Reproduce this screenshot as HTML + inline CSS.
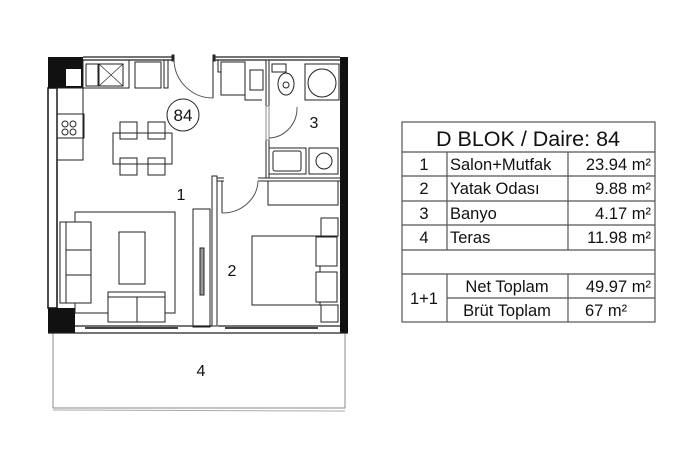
<!DOCTYPE html>
<html><head><meta charset="utf-8"><style>
html,body{margin:0;padding:0;background:#fff;width:700px;height:466px;overflow:hidden}
svg{display:block}
text{font-family:"Liberation Sans",Arial,sans-serif;fill:#111}
</style></head><body>
<svg width="700" height="466" viewBox="0 0 700 466" xmlns="http://www.w3.org/2000/svg">
<g fill="none" stroke="#222" stroke-width="1">
<path d="M53 333 V408 H345 V333" stroke="#888"/>
<line x1="53" y1="410" x2="345" y2="411" stroke="#aaa"/>
<rect x="48" y="57" width="35" height="31" fill="#111" stroke="none"/>
<rect x="66" y="69" width="15" height="17" fill="#fff" stroke="none"/>
<rect x="48" y="88" width="9" height="220" fill="#fff" stroke="#111" stroke-width="1.5"/>
<rect x="48" y="308" width="27" height="25" fill="#111" stroke="none"/>
<rect x="340" y="57" width="8" height="276" fill="#111" stroke="none"/>
<path d="M83 57 H174 M83 60 H174 M215 57 H340 M215 60 H340" stroke-width="1.2"/>
<rect x="172" y="55" width="2" height="6" fill="#222"/>
<rect x="213" y="55" width="2" height="6" fill="#222"/>
<path d="M48 333 H348 M75 326 H212 M218 326 H340" stroke-width="1.2"/>
<path d="M85 328 H178 M225 328 H318" stroke="#444" stroke-width="2"/>
<rect x="83" y="60" width="46" height="28"/>
<rect x="86" y="64" width="12" height="22"/>
<rect x="99" y="64" width="24" height="22"/>
<path d="M99 64 L123 86 M123 64 L99 86" stroke-width="0.6"/>
<rect x="135" y="62" width="26" height="26"/>
<rect x="164" y="60" width="4" height="28"/>
<line x1="213" y1="60" x2="213" y2="98"/>
<path d="M174 60 A39 39 0 0 0 213 98" stroke="#555"/>
<circle cx="183" cy="115" r="16"/>
<rect x="57" y="88" width="26" height="72"/>
<rect x="57" y="114" width="27" height="24"/>
<circle cx="65" cy="124" r="3"/><circle cx="73" cy="124" r="3"/>
<circle cx="65" cy="132" r="3"/><circle cx="73" cy="132" r="3"/>
<rect x="113" y="133" width="59" height="31"/>
<rect x="120" y="122" width="17" height="17"/><rect x="148" y="122" width="17" height="17"/>
<rect x="120" y="158" width="17" height="17"/><rect x="148" y="158" width="17" height="17"/>
<rect x="75" y="212" width="100" height="101"/>
<rect x="60" y="222" width="31" height="81" fill="#fff"/>
<path d="M66 222 V303 M66 250 H91 M66 275 H91"/>
<rect x="119" y="232" width="26" height="52"/>
<rect x="108" y="292" width="57" height="30" fill="#fff"/>
<path d="M108 297 H165 M137 297 V322"/>
<rect x="193" y="209" width="17" height="118"/>
<rect x="200" y="248" width="4" height="47" fill="#999"/>
<rect x="212" y="176" width="5" height="150" fill="#fff"/>
<path d="M217 178 H224 M258 178 H340 M217 181 H224 M258 181 H340"/>
<rect x="266" y="60" width="3" height="118" fill="#fff"/>
<path d="M218 60 V72 H221 V95 H245 V100 H262"/>
<rect x="221" y="62" width="24" height="33"/>
<rect x="250" y="70" width="13" height="20"/>
<line x1="222" y1="181" x2="222" y2="213"/>
<path d="M222 213 A36 33 0 0 0 258 181" stroke="#555"/>
<rect x="268" y="181" width="70" height="24"/>
<rect x="321" y="218" width="17" height="18"/>
<rect x="321" y="305" width="17" height="17"/>
<rect x="252" y="236" width="68" height="69" fill="#fff"/>
<rect x="316" y="237" width="21" height="29" fill="#fff"/>
<rect x="316" y="272" width="21" height="30" fill="#fff"/>
<rect x="266" y="106" width="3" height="34" fill="#fff" stroke="#888"/>
<path d="M297 107 A29 30 0 0 1 269 138" stroke="#555"/>
<rect x="272" y="64" width="14" height="8"/>
<ellipse cx="286" cy="84" rx="8" ry="11"/>
<circle cx="286" cy="85" r="3"/>
<rect x="305" y="64" width="34" height="36"/>
<circle cx="322" cy="83" r="14"/>
<rect x="269" y="148" width="37" height="26"/>
<rect x="273" y="151" width="28" height="20" rx="2"/>
<rect x="309" y="148" width="29" height="26"/>
<circle cx="324" cy="161" r="8"/>
</g>
<text x="183" y="121" font-size="17" text-anchor="middle">84</text>
<text x="181" y="200" font-size="16" text-anchor="middle">1</text>
<text x="232" y="276" font-size="16" text-anchor="middle">2</text>
<text x="314" y="128" font-size="16" text-anchor="middle">3</text>
<text x="201" y="376" font-size="16" text-anchor="middle">4</text>
<g fill="none" stroke="#555" stroke-width="1.2">
<rect x="402" y="122" width="253" height="200"/>
<path d="M402 152 H655 M402 176 H655 M402 201 H655 M402 225 H655 M402 250 H655 M402 274 H655 M447 298 H655"/>
<path d="M447 152 V250 M568 152 V250 M447 274 V322 M568 274 V322"/>
</g>
<g font-size="16.5">
<text x="528" y="146" font-size="21.5" text-anchor="middle">D BLOK / Daire: 84</text>
<text x="424" y="170" text-anchor="middle">1</text>
<text x="424" y="194" text-anchor="middle">2</text>
<text x="424" y="219" text-anchor="middle">3</text>
<text x="424" y="243" text-anchor="middle">4</text>
<text x="450" y="170">Salon+Mutfak</text>
<text x="450" y="194">Yatak Odası</text>
<text x="450" y="219">Banyo</text>
<text x="450" y="243">Teras</text>
<text x="651" y="170" text-anchor="end">23.94 m²</text>
<text x="651" y="194" text-anchor="end">9.88 m²</text>
<text x="651" y="219" text-anchor="end">4.17 m²</text>
<text x="651" y="243" text-anchor="end">11.98 m²</text>
<text x="424" y="304" text-anchor="middle">1+1</text>
<text x="507" y="292" text-anchor="middle">Net Toplam</text>
<text x="507" y="316" text-anchor="middle">Brüt Toplam</text>
<text x="651" y="292" text-anchor="end">49.97 m²</text>
<text x="585" y="316">67 m²</text>
</g>
</svg>
</body></html>
